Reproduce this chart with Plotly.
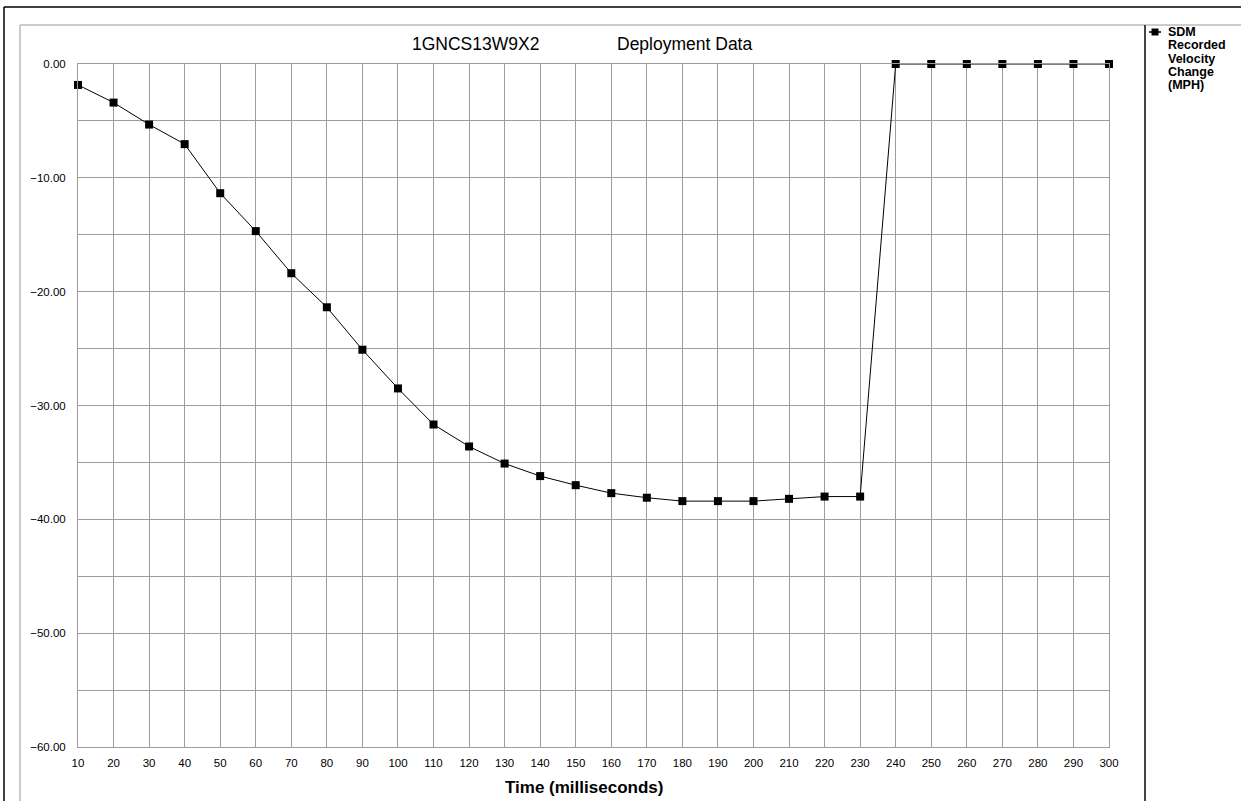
import plotly.graph_objects as go

time_ms = [10, 20, 30, 40, 50, 60, 70, 80, 90, 100, 110, 120, 130, 140, 150,
           160, 170, 180, 190, 200, 210, 220, 230, 240, 250, 260, 270, 280, 290, 300]
velocity_change = [-1.84, -3.39, -5.32, -7.04, -11.35, -14.68, -18.38, -21.37, -25.1, -28.5,
                   -31.67, -33.6, -35.1, -36.2, -37.0, -37.7, -38.1, -38.4, -38.4, -38.4,
                   -38.2, -38.0, -38.0, 0.0, 0.0, 0.0, 0.0, 0.0, 0.0, 0.0]
x_ticks = list(range(10, 301, 10))
y_ticks = [0, -10, -20, -30, -40, -50, -60]
legend_lines = ["SDM", "Recorded", "Velocity", "Change", "(MPH)"]

W, H = 1241, 801
L, R, T, B = 78, 1109, 64, 747

def px(x):
    return (x - L) / (R - L)

def py(y):
    return (B - y) / (B - T)

fig = go.Figure()
fig.add_trace(go.Scatter(
    x=time_ms, y=velocity_change, mode="lines+markers",
    name="SDM Recorded Velocity Change (MPH)",
    line=dict(color="black", width=1),
    marker=dict(symbol="square", size=8, color="black"),
    cliponaxis=False, showlegend=False,
))

font = "Liberation Sans, Arial, sans-serif"
grid = "#9c9c9c"
fig.update_layout(
    width=W, height=H, autosize=False,
    margin=dict(l=L, r=W - R, t=T, b=H - B, autoexpand=False),
    paper_bgcolor="white", plot_bgcolor="white",
    font=dict(family=font, size=11, color="black"),
    showlegend=False,
    xaxis=dict(range=[10, 300], tickvals=x_ticks, ticktext=[str(v) for v in x_ticks],
               automargin=False,
               showgrid=True, gridcolor=grid, gridwidth=1, zeroline=False,
               showline=True, linecolor=grid, mirror=True, ticks="",
               tickfont=dict(size=11.5), ticklabelstandoff=5),
    yaxis=dict(range=[-60, 0], tickvals=y_ticks, tickformat=".2f",
               automargin=False,
               showgrid=True, gridcolor=grid, gridwidth=1, zeroline=False,
               showline=True, linecolor=grid, mirror=True, ticks="",
               tickfont=dict(size=11.5), ticklabelstandoff=9,
               minor=dict(dtick=5, showgrid=True, gridcolor=grid, gridwidth=1)),
)

# titles
fig.add_annotation(x=px(475), y=py(44), xref="paper", yref="paper",
                   text="1GNCS13W9X2", showarrow=False,
                   font=dict(size=17.5, color="black"), xanchor="center", yanchor="middle")
fig.add_annotation(x=px(684), y=py(44), xref="paper", yref="paper",
                   text="Deployment Data", showarrow=False,
                   font=dict(size=17.5, color="black"), xanchor="center", yanchor="middle")
fig.add_annotation(x=px(584), y=py(787), xref="paper", yref="paper",
                   text="<b>Time (milliseconds)</b>", showarrow=False,
                   font=dict(size=17, color="black"), xanchor="center", yanchor="middle")

# legend (manual)
for i, t in enumerate(legend_lines):
    fig.add_annotation(x=px(1166), y=py(32 + 13.3 * i), xref="paper", yref="paper",
                       text=f"<b>{t}</b>", showarrow=False,
                       font=dict(size=12.5, color="black"), xanchor="left", yanchor="middle")
fig.add_shape(type="line", xref="paper", yref="paper", layer="above",
              x0=px(1149), x1=px(1161), y0=py(32), y1=py(32),
              line=dict(color="black", width=1.5))
fig.add_shape(type="rect", xref="paper", yref="paper", layer="above",
              x0=px(1151.5), x1=px(1158.5), y0=py(28.5), y1=py(35.5),
              fillcolor="black", line=dict(width=0))

shapes = [
    dict(x0=px(4), x1=px(W + 5), y0=py(7), y1=py(7), line=dict(color="black", width=1.5)),
    dict(x0=px(4), x1=px(4), y0=py(7), y1=py(H + 5), line=dict(color="black", width=1.5)),
    dict(x0=px(20), x1=px(W + 5), y0=py(25), y1=py(25), line=dict(color="#999999", width=1)),
    dict(x0=px(20), x1=px(20), y0=py(25), y1=py(H + 5), line=dict(color="#999999", width=1)),
    dict(x0=px(1145), x1=px(1145), y0=py(25), y1=py(H + 5), line=dict(color="#444444", width=2)),
]
for s in shapes:
    fig.add_shape(type="line", xref="paper", yref="paper", layer="above", **s)

fig.write_html(
    "out.html",
    default_width=f"{W}px", default_height=f"{H}px",
    config={"responsive": False, "displayModeBar": False},
    post_script="document.body.style.margin='0';document.body.style.overflow='hidden';",
)
